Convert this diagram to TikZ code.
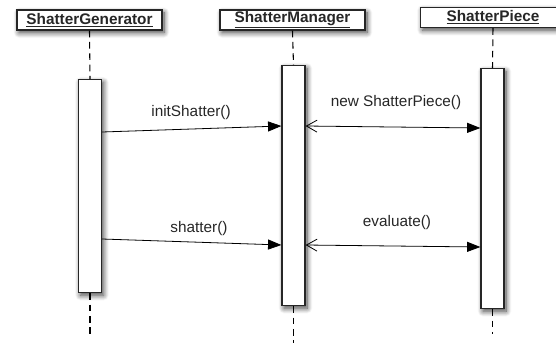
\documentclass[tikz,border=0pt]{standalone}
\usepackage{fontspec}
\setmainfont{Liberation Sans}
\usetikzlibrary{positioning,arrows.meta,shadows.blur}
\tikzset{
  soft/.style={blur shadow={shadow blur steps=8, shadow xshift=1.5pt, shadow yshift=-2pt, shadow blur radius=4pt, shadow opacity=75}},
  header/.style={draw=black!85, line width=0.9pt, fill=white, soft, minimum width=145*0.75pt, minimum height=20*0.75pt, inner xsep=9*0.75pt, inner ysep=0pt, text=black!85, font=\fontsize{11.5}{13}\selectfont\bfseries},
  activation/.style={draw=black!85, line width=0.9pt, fill=white, soft, minimum width=23*0.75pt, inner sep=0pt, anchor=north},
  lifeline/.style={line width=0.8pt, dash pattern=on 5pt off 3.5pt},
  call/.style={line width=0.6pt, -{Triangle[length=10pt,width=7.5pt]}},
  reply/.style={line width=0.6pt, {Straight Barb[length=8pt,width=9pt,line width=0.6pt]}-{Triangle[length=10pt,width=7.5pt]}},
  msg/.style={font=\fontsize{11.5}{13}\selectfont, text=black!85, inner sep=0pt}
}

\begin{document}
\begin{tikzpicture}[x=0.75pt,y=-0.75pt]
\path[use as bounding box,clip] (0,0) rectangle (556,343);

% Object headers
\node[header] (gen) at (89.5,20) {\underline{ShatterGenerator}};
\node[header] (mgr) at (292.5,20) {\underline{ShatterManager}};
\node[header] (piece) at (493,17.5) {\underline{ShatterPiece}};

% Activation bars
\node[activation, minimum height=213*0.75pt] (genbar) at (90,79) {};
\node[activation, minimum height=240*0.75pt] (mgrbar) at (293.5,65) {};
\node[activation, minimum height=240*0.75pt] (piecebar) at (492.5,68) {};

% Lifelines
\coordinate (genend) at (90,336);
\coordinate (mgrend) at (293.5,343);
\coordinate (pieceend) at (492.5,334);
\draw[lifeline] (gen.south) -- (genbar.north);
\draw[lifeline] (genbar.south) -- (genend);
\draw[lifeline] (mgr.south) -- (mgrbar.north);
\draw[lifeline] (mgrbar.south) -- (mgrend);
\draw[lifeline] (piece.south) -- (piecebar.north);
\draw[lifeline] (piecebar.south) -- (pieceend);

% Messages
\draw[call] (genbar.east |- 0,132) -- (mgrbar.west |- 0,126);
\node[msg] (init) at (191,113) {initShatter()};
\draw[reply] (mgrbar.east |- 0,126) -- (piecebar.west |- 0,128);
\node[msg] (create) at (396,103) {new ShatterPiece()};
\draw[call] (genbar.east |- 0,239) -- (mgrbar.west |- 0,245);
\node[msg] (shatter) at (199,229) {shatter()};
\draw[reply] (mgrbar.east |- 0,245) -- (piecebar.west |- 0,247);
\node[msg] (evaluate) at (397,223) {evaluate()};
\end{tikzpicture}
\end{document}
